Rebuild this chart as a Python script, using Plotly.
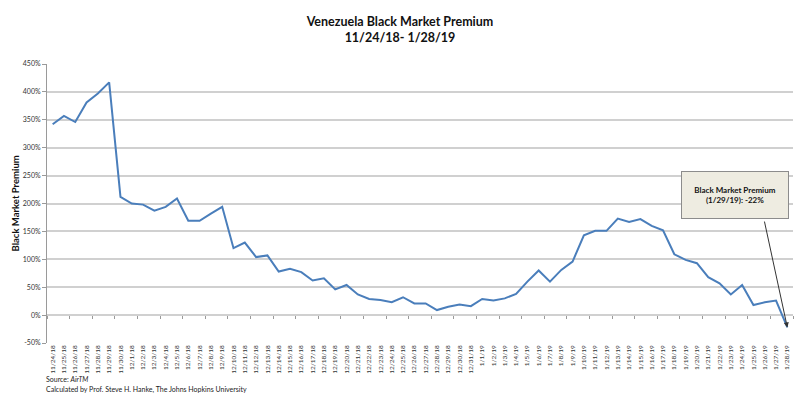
import plotly.graph_objects as go

dates = (["11/%d/18" % d for d in range(24, 31)]
         + ["12/%d/18" % d for d in range(1, 32)]
         + ["1/%d/19" % d for d in range(1, 29)])

premium = [342, 357, 346, 381, 397, 417, 212, 200, 198, 187,
           194, 209, 169, 169, 182, 194, 120, 130, 104, 107,
           78, 83, 77, 62, 66, 46, 54, 37, 29, 27,
           23, 32, 21, 21, 9, 15, 19, 16, 29, 26,
           30, 38, 60, 80, 60, 81, 96, 143, 151, 151,
           173, 167, 172, 160, 152, 109, 99, 93, 68, 57,
           37, 54, 18, 23, 26, -22]

y_ticks = list(range(-50, 451, 50))
y_tick_text = ["%d%%" % v for v in y_ticks]

FONT = "Lato"
n = len(dates)
xr = [-0.5, n - 0.5]

fig = go.Figure()
fig.add_trace(go.Scatter(x=dates, y=premium, mode="lines",
                         line=dict(color="#4a7ebb", width=2), hoverinfo="skip",
                         cliponaxis=False))
# invisible trace carrying the tick-mark axis crossing at 0
fig.add_trace(go.Scatter(x=dates, y=premium, mode="lines", xaxis="x2",
                         line=dict(color="rgba(0,0,0,0)", width=0), hoverinfo="skip"))

fig.update_layout(
    width=800, height=393,
    margin=dict(l=47, r=7, t=64, b=50, autoexpand=False),
    paper_bgcolor="white", plot_bgcolor="white",
    showlegend=False,
    font=dict(family=FONT, color="#333333"),
    title=dict(text="<b>Venezuela Black Market Premium<br>11/24/18- 1/28/19</b>",
               x=0.5, xref="container", y=1 - 26 / 393, yanchor="middle",
               font=dict(size=12.5, color="#111111", family=FONT)),
    xaxis=dict(type="category", range=xr, tickangle=-90, ticks="", showgrid=False,
               tickfont=dict(size=6.5, color="#333333", family=FONT),
               showline=False, zeroline=False, automargin=False),
    xaxis2=dict(type="category", range=xr, overlaying="x", anchor="free", position=0.1,
                side="bottom", showticklabels=False, ticks="outside", ticklen=3,
                tickcolor="#9a9a9a", tickson="boundaries", showgrid=False,
                showline=False, zeroline=False, automargin=False),
    yaxis=dict(range=[-50, 450], tickvals=y_ticks, ticktext=y_tick_text,
               showgrid=True, gridcolor="#d0d0d0", gridwidth=1.5,
               zeroline=False, showline=True, linecolor="#9a9a9a", linewidth=1,
               ticks="outside", ticklen=4, tickcolor="#9a9a9a", automargin=False,
               tickfont=dict(size=7, color="#333333", family=FONT)),
)

fig.add_annotation(text="<b>Black Market Premium</b>", textangle=-90,
                   xref="paper", yref="paper", x=(15 - 47) / 746, y=0.5,
                   xanchor="center", yanchor="middle", showarrow=False,
                   font=dict(size=9.5, color="#111111", family=FONT))

fig.add_annotation(text="Source: <i>AirTM</i>", xref="paper", yref="paper",
                   x=(44 - 47) / 746, y=(343 - 379) / 279, xanchor="left",
                   yanchor="middle", showarrow=False,
                   font=dict(size=7, color="#222222", family=FONT))
fig.add_annotation(text="Calculated by Prof. Steve H. Hanke, The Johns Hopkins University",
                   xref="paper", yref="paper",
                   x=(44 - 47) / 746, y=(343 - 389) / 279, xanchor="left",
                   yanchor="middle", showarrow=False,
                   font=dict(size=7, color="#222222", family=FONT))

# arrow from callout box to final point
fig.add_annotation(text="", x=n - 1, y=premium[-1], xref="x", yref="y",
                   ax=(764 - 52.7) / 11.3, ay=(315 - 220) * 1.793,
                   axref="x", ayref="y", showarrow=True, arrowhead=2,
                   arrowsize=1, arrowwidth=1, arrowcolor="#333333")
# callout box
fig.add_annotation(text="<b>Black Market Premium<br>(1/29/19): -22%</b>",
                   xref="paper", yref="paper",
                   x=(735 - 47) / 746, y=(343 - 195) / 279,
                   xanchor="center", yanchor="middle", showarrow=False,
                   width=104, height=44, bgcolor="#eeece1",
                   bordercolor="#8c8c8c", borderwidth=1,
                   font=dict(size=8, color="#111111", family=FONT))

fig.write_html("out.html", config={"displayModeBar": False},
               post_script="document.body.style.margin='0';document.body.style.overflow='hidden';")
